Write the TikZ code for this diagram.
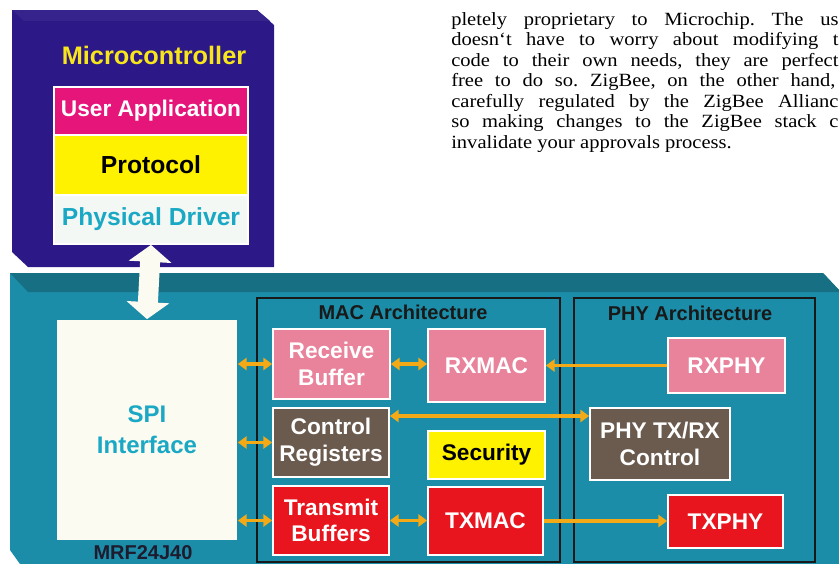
\documentclass[tikz,border=0pt]{standalone}
\usepackage{fontspec}
\setmainfont{Liberation Serif}
\newfontfamily\arialfont{Liberation Sans}
\usetikzlibrary{arrows.meta,calc}
\definecolor{navyA}{HTML}{2C1886}
\definecolor{navyB}{HTML}{36238C}
\definecolor{tealA}{HTML}{1C8DA8}
\definecolor{tealB}{HTML}{166F82}
\definecolor{magentaA}{HTML}{E5157A}
\definecolor{yellowA}{HTML}{FFF200}
\definecolor{yellowB}{HTML}{F7E61C}
\definecolor{cyanA}{HTML}{1AA8C4}
\definecolor{offwhite}{HTML}{F4F8F4}
\definecolor{spiwhite}{HTML}{FBFBF2}
\definecolor{pinkA}{HTML}{E9829B}
\definecolor{brownA}{HTML}{6B5A4E}
\definecolor{redA}{HTML}{E8141E}
\definecolor{orangeA}{HTML}{F3AA16}
\definecolor{darkA}{HTML}{1E1B2E}
\newcommand\mybox[7]{\node[#6, minimum width={(#4-#2)*0.75pt}, minimum height={(#5-#3)*0.75pt}] (#1) at ({(#2+#4)/2},{(#3+#5)/2}) {#7};}
\frenchspacing
\begin{document}
\begin{tikzpicture}[x=0.75pt,y=-0.75pt,
  cbox/.style={draw=white, line width=1.3pt, text=white, align=center, inner sep=0pt,
    font=\arialfont\bfseries\fontsize{17}{20}\selectfont},
  arch/.style={draw=black!90, line width=1.6pt, inner sep=0pt},
  archtitle/.style={text=black!90, inner sep=0pt, font=\arialfont\bfseries\fontsize{15}{18}\selectfont},
  oarr/.style={draw=orangeA, line width=2.8pt, arrows={Triangle[length=6.5pt,width=9pt]-Triangle[length=6.5pt,width=9pt]}},
  oone/.style={draw=orangeA, line width=2.8pt, arrows={-Triangle[length=6.5pt,width=9pt]}},
  para/.style={anchor=base west, inner sep=0pt, font=\fontsize{14}{16}\selectfont},
  bigarr/.style={draw=spiwhite, line width=15pt, arrows={Triangle[length=12.75pt,width=31.5pt]-Triangle[length=12.75pt,width=31.5pt]}}
]
\useasboundingbox (0,0) rectangle (839,564);
\begin{scope}
\clip (0,0) rectangle (839,564);
% paragraph
\node[para] (p1) at (451,25) {\scalebox{1.1}[1]{\makebox[264pt][s]{pletely proprietary to Microchip. The us}}};
\node[para] (p2) at (451,45.5) {\scalebox{1.1}[1]{\makebox[264pt][s]{doesn`t have to worry about modifying t}}};
\node[para] (p3) at (451,66) {\scalebox{1.1}[1]{\makebox[264pt][s]{code to their own needs, they are perfect}}};
\node[para] (p4) at (451,86.5) {\scalebox{1.1}[1]{\makebox[262pt][s]{free to do so. ZigBee, on the other hand,}}};
\node[para] (p5) at (451,107) {\scalebox{1.1}[1]{\makebox[264pt][s]{carefully regulated by the ZigBee Allianc}}};
\node[para] (p6) at (451,127.5) {\scalebox{1.1}[1]{\makebox[264pt][s]{so making changes to the ZigBee stack c}}};
\node[para] (p7) at (451,148) {\scalebox{1.1}[1]{invalidate your approvals process.}};
% microcontroller body
\fill[navyA] (12,10) -- (257,10) -- (274,25) -- (274,267) -- (28,267) -- (12,252) -- cycle;
\fill[navyB] (12,10) -- (257,10) -- (270,21) -- (24,21) -- cycle;
% MRF24J40 body
\fill[tealA] (10,273) -- (823,273) -- (839,290) -- (839,564) -- (20,564) -- (10,550) -- cycle;
\fill[tealB] (10,273) -- (823,273) -- (839,290) -- (839,292) -- (28,292) -- cycle;
\end{scope}
% microcontroller contents
\node[text=yellowB, inner sep=0pt, font=\arialfont\bfseries\fontsize{19}{22}\selectfont] (mcu) at (154,55) {Microcontroller};
\mybox{user}{54}{87}{248}{135}{cbox, fill=magentaA}{User Application}
\mybox{proto}{54}{135}{248}{195}{cbox, fill=yellowA, text=black, font=\arialfont\bfseries\fontsize{18.5}{22}\selectfont}{Protocol}
\mybox{phys}{54}{195}{248}{244}{cbox, fill=offwhite, text=cyanA, font=\arialfont\bfseries\fontsize{18.5}{22}\selectfont}{Physical Driver}
% SPI
\mybox{spi}{57}{320}{237}{540}{cbox, draw=none, fill=spiwhite, text=cyanA, font=\arialfont\bfseries\fontsize{18}{23}\selectfont}{SPI\\Interface}
\node[text=darkA, inner sep=0pt, font=\arialfont\bfseries\fontsize{15}{18}\selectfont] (mrf) at (143,553) {MRF24J40};
% architectures
\mybox{mac}{257}{298}{560}{562}{arch}{}
\mybox{phyarch}{574}{298}{815}{562}{arch}{}
\node[archtitle] (mactitle) at (403,312) {MAC Architecture};
\node[archtitle] (phytitle) at (690,313) {PHY Architecture};
% MAC boxes
\mybox{rxbuf}{273}{329}{390}{399}{cbox, fill=pinkA}{Receive\\Buffer}
\mybox{rxmac}{428}{329}{545}{402}{cbox, fill=pinkA}{RXMAC}
\mybox{ctrl}{273}{408}{389}{477}{cbox, fill=brownA}{Control\\Registers}
\mybox{sec}{428}{431}{545}{479}{cbox, fill=yellowA, text=black}{Security}
\mybox{txbuf}{273}{486}{389}{555}{cbox, fill=redA}{Transmit\\Buffers}
\mybox{txmac}{428}{487}{543}{555}{cbox, fill=redA}{TXMAC}
% PHY boxes
\mybox{rxphy}{668}{338}{785}{393}{cbox, fill=pinkA}{RXPHY}
\mybox{phyctl}{590}{408}{730}{480}{cbox, fill=brownA}{PHY TX/RX\\Control}
\mybox{txphy}{668}{495}{783}{548}{cbox, fill=redA}{TXPHY}
% big arrow
\draw[bigarr] (phys.south) -- (spi.north);
% orange connectors
\coordinate (cy) at (0,416);
\draw[oarr] (spi.east |- rxbuf.west) -- (rxbuf.west);
\draw[oarr] (spi.east |- ctrl.west) -- (ctrl.west);
\draw[oarr] (spi.east |- txbuf.west) -- (txbuf.west);
\draw[oarr] (rxbuf.east) -- (rxbuf.east -| rxmac.west);
\draw[oarr] (txbuf.east) -- (txbuf.east -| txmac.west);
\draw[oone] (rxphy.west) -- (rxphy.west -| rxmac.east);
\draw[oarr] (ctrl.east |- cy) -- (phyctl.west |- cy);
\draw[oone] (txmac.east) -- (txmac.east -| txphy.west);
\end{tikzpicture}
\end{document}
